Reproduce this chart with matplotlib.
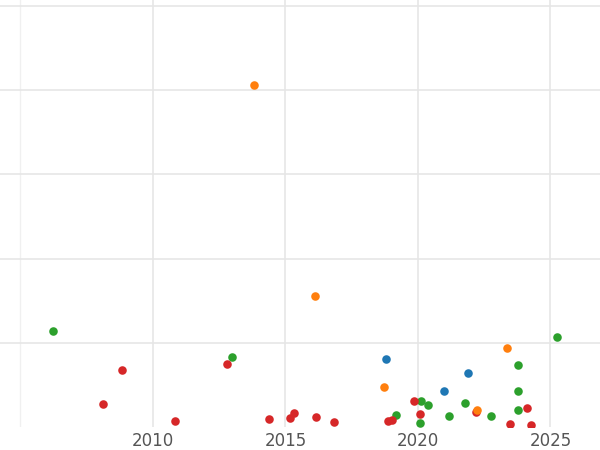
import matplotlib.pyplot as plt

# values (year, value)
orange_x = [2013.82, 2016.12, 2018.72, 2023.36, 2022.23]
orange_y = [4.06, 1.56, 0.48, 0.94, 0.20]
blue_x = [2018.80, 2020.98, 2021.89]
blue_y = [0.81, 0.43, 0.64]
green_x = [2006.23, 2012.98, 2019.17, 2020.08, 2020.12, 2020.38, 2021.17,
           2021.78, 2022.76, 2023.78, 2023.78, 2023.78, 2025.25]
green_y = [1.14, 0.83, 0.14, 0.05, 0.31, 0.26, 0.13, 0.29, 0.13, 0.74,
           0.43, 0.20, 1.07]
red_x = [2008.12, 2008.83, 2010.83, 2012.80, 2014.38, 2015.17, 2015.32,
         2016.15, 2016.83, 2018.87, 2019.02, 2019.85, 2020.08, 2022.19,
         2023.48, 2024.12, 2024.27]
red_y = [0.27, 0.68, 0.07, 0.75, 0.10, 0.11, 0.17, 0.12, 0.06, 0.07, 0.08,
         0.31, 0.15, 0.18, 0.04, 0.23, 0.02]

fig = plt.figure(figsize=(6, 4.5), dpi=100)
ax = fig.add_axes([0, 23 / 450, 1, 427 / 450])

series = [(green_x, green_y, "#2ca02c"), (red_x, red_y, "#d62728"),
          (blue_x, blue_y, "#1f77b4"), (orange_x, orange_y, "#ff7f0e")]
for xs, ys, c in series:
    ax.scatter(xs, ys, s=38, color=c, zorder=3, linewidths=0)

ax.set_xlim(2004.23, 2026.87)
ax.set_ylim(0, 5.07)
ax.set_xticks([2010, 2015, 2020, 2025])
ax.set_xticks([2005], minor=True)
ax.set_yticks([1, 2, 3, 4, 5])
ax.grid(True, which="major", color="#e6e6e6", linewidth=1.2)
ax.grid(True, which="minor", axis="x", color="#f0f0f0", linewidth=1)
ax.tick_params(which="both", length=0, labelsize=12, colors="#555555")
ax.tick_params(axis="y", labelleft=False)
for sp in ax.spines.values():
    sp.set_visible(False)

fig.savefig("out.png")
